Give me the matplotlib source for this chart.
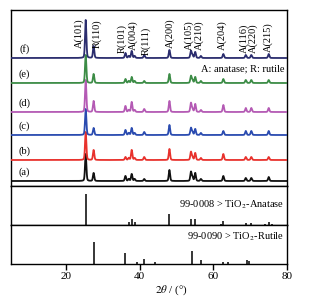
import numpy as np
import matplotlib
matplotlib.use("Agg")
import matplotlib.pyplot as plt

plt.rcParams['font.family'] = ['Liberation Serif', 'DejaVu Serif']
plt.rcParams['mathtext.fontset'] = 'stix'

# ---------------- data ----------------
peak_pos = [25.3, 27.45, 36.1, 37.0, 37.8, 38.6, 41.2, 48.05, 53.9, 54.3, 55.06, 56.6, 62.7, 68.8, 70.3, 75.03]

samples = ['(a)', '(b)', '(c)', '(d)', '(e)', '(f)']
heights_a = [27, 8, 5, 2, 7, 2, 2, 11, 9, 4, 8, 2, 5, 3, 3, 4]
heights_b = [28, 10, 3, 2, 10, 2, 3, 11, 8, 3, 7, 2, 6, 3, 3, 3]
heights_c = [26, 7, 5, 2, 7, 2, 3, 10, 7, 3, 6, 2, 4, 4, 4, 4]
heights_d = [32, 11, 6, 2, 10, 2, 3, 11, 9, 3, 8, 2, 7, 4, 4, 4]
heights_e = [28, 9, 4, 2, 6, 2, 2, 9, 7, 3, 6, 2, 4, 3, 3, 3]
heights_f = [38, 12, 5, 2, 7, 2, 3, 8, 7, 3, 6, 2, 4, 3, 3, 4]
offsets = [5, 26, 51, 74, 103, 128]
colors = ['#111111', '#e8322d', '#2a4bb0', '#b45ab4', '#3c8c46', '#2b2d6e']

peak_labels = ['A(101)', 'R(110)', 'R(101)', 'A(004)', 'R(111)', 'A(200)', 'A(105)',
               'A(210)', 'A(204)', 'A(116)', 'A(220)', 'A(215)']
label_x = [23.5, 28.4, 35.2, 38.2, 41.7, 48.2, 53.4, 56.1, 62.3, 68.3, 70.8, 74.9]
label_y = [138, 138, 133, 136, 131, 138, 136, 136, 136, 133, 133, 134]

anatase_pos = [25.28, 36.95, 37.80, 38.58, 48.05, 53.89, 55.06, 62.12, 62.69, 68.76, 70.31, 74.03, 75.03, 76.02]
anatase_int = [100, 10, 20, 10, 35, 20, 20, 4, 14, 6, 6, 2, 10, 4]
rutile_pos = [27.45, 36.09, 39.19, 41.23, 44.05, 54.32, 56.64, 62.74, 64.04, 65.48, 69.01, 69.79]
rutile_int = [100, 50, 8, 25, 10, 60, 20, 10, 10, 2, 20, 12]

# ---------------- figure ----------------
W, H = 313, 299
fig = plt.figure(figsize=(W / 100, H / 100), dpi=100)
left = 11 / W
width = 276 / W
ax1 = fig.add_axes([left, (H - 186) / H, width, 176 / H])
ax2 = fig.add_axes([left, (H - 225) / H, width, 39 / H])
ax3 = fig.add_axes([left, (H - 264) / H, width, 39 / H])

x = np.arange(5, 80.001, 0.02)
sig = 0.18


def profile(pos, hts):
    y = np.zeros_like(x)
    for p, h in zip(pos, hts):
        g = np.exp(-0.5 * ((x - p) / sig) ** 2)
        l = 1.0 / (1.0 + ((x - p) / (sig * 1.2)) ** 2)
        y += h * (0.75 * g + 0.25 * l)
    return y


all_heights = [heights_a, heights_b, heights_c, heights_d, heights_e, heights_f]
for i, (name, hts, off, col) in enumerate(zip(samples, all_heights, offsets, colors)):
    ax1.plot(x, off + profile(peak_pos, hts), color=col, lw=1.3, zorder=2 + i)
    ax1.text(8.6, off + 9, name, fontsize=7.5, ha='center', va='center', zorder=10)

for lab, lx, ly in zip(peak_labels, label_x, label_y):
    ax1.text(lx, ly, lab, rotation=90, fontsize=7.5, ha='center', va='bottom', zorder=10)

ax1.text(79.3, 117, 'A: anatase; R: rutile', fontsize=7.5, ha='right', va='center')
ax1.set_xlim(5, 80)
ax1.set_ylim(0, 176)

ax2.vlines(anatase_pos, 0, np.array(anatase_int) * 0.31, color='black', lw=1.1)
ax2.set_xlim(5, 80)
ax2.set_ylim(0, 39)
ax2.text(79.3, 20, r'99-0008 > TiO$_2$-Anatase', fontsize=7.5, ha='right', va='center')

ax3.vlines(rutile_pos, 0, np.array(rutile_int) * 0.22, color='black', lw=1.1)
ax3.set_xlim(5, 80)
ax3.set_ylim(0, 39)
ax3.text(79.3, 27, r'99-0090 > TiO$_2$-Rutile', fontsize=7.5, ha='right', va='center')

for ax in (ax1, ax2, ax3):
    for s in ax.spines.values():
        s.set_linewidth(1.0)
    ax.set_yticks([])
for ax in (ax1, ax2):
    ax.set_xticks([])

ax3.set_xticks([20, 40, 60, 80])
ax3.tick_params(axis='x', direction='out', length=4, width=1.0, labelsize=8, pad=2)
ax3.set_xlabel(r'$\mathit{2\theta}$ / (°)', fontsize=8)
ax3.xaxis.set_label_coords(0.583, -0.5)

fig.savefig('out.png', dpi=100)
